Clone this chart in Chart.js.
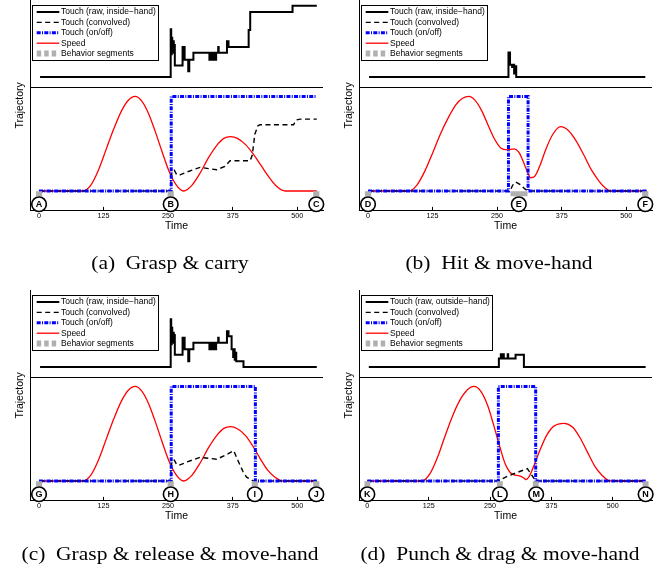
<!DOCTYPE html>
<html>
<head>
<meta charset="utf-8">
<script src="https://cdn.jsdelivr.net/npm/chart.js@4.4.1/dist/chart.umd.min.js"></script>
<style>
  html, body { margin: 0; padding: 0; background: #fff; }
  #fig { position: relative; width: 668px; height: 572px; overflow: hidden; }
  #fig canvas { position: absolute; }
  .cap { position: absolute; width: 400px; text-align: center; white-space: nowrap;
         font: 19px "Liberation Serif", "Times New Roman", serif; line-height: 20px; transform: scaleX(1.13); }
</style>
</head>
<body>
<div id="fig">
  <canvas id="panelA" width="334" height="290" style="left:0;top:0"></canvas>
  <canvas id="panelB" width="334" height="290" style="left:334px;top:0"></canvas>
  <canvas id="panelC" width="334" height="290" style="left:0;top:290px"></canvas>
  <canvas id="panelD" width="334" height="290" style="left:334px;top:290px"></canvas>
  <div class="cap" style="left:-30.5px;top:253px">(a)&ensp;Grasp &amp; carry</div>
  <div class="cap" style="left:299px;top:253px">(b)&ensp;Hit &amp; move-hand</div>
  <div class="cap" style="left:-30px;top:543.5px">(c)&ensp;Grasp &amp; release &amp; move-hand</div>
  <div class="cap" style="left:299.5px;top:543.5px">(d)&ensp;Punch &amp; drag &amp; move-hand</div>
</div>
<script>
  // x ticks shared by all four panels
  var timeTicks = [0, 125, 250, 375, 500];

  // ---- (a) Grasp & carry ----  [time, value]
  var rawA = [[2,0],[255,0.67],[256,0.32],[257,0.55],[258,0.36],[259,0.5],[261,0.34],[262,0.45],[263,0.16],
    [278,0.42],[280,0.24],[281,0.42],[282,0.24],[289,0.08],[291,0.24],[299,0.34],
    [330,0.24],[331,0.34],[332,0.24],[333,0.34],[334,0.24],[335,0.34],[336,0.24],[337,0.34],[338,0.24],
    [339,0.34],[340,0.24],[341,0.34],[342,0.24],[343,0.34],[347,0.42],[348,0.34],[364,0.5],[367,0.42],
    [406,0.66],[409,0.91],[491,1.0],[538,1.0]];
  var convA = [[0,0],[254,0],[257,0.2],[262,0.22],[267,0.17],[273,0.17],[286,0.2],[312,0.25],[344,0.225],
    [360,0.26],[370,0.32],[409,0.32],[413,0.38],[418,0.6],[424,0.69],[428,0.7],[493,0.7],[498,0.75],[506,0.76],[538,0.76]];
  var onoffA = [[0,0],[256,1],[538,1]];
  var speedA = [[0,0],[85,0],[100,0.06],[115,0.22],[130,0.44],[145,0.66],[160,0.85],[173,0.96],[186,1.0],
    [199,0.95],[212,0.82],[225,0.63],[238,0.42],[251,0.22],[265,0.07],[280,0.0],[296,0.06],[312,0.19],
    [328,0.35],[344,0.48],[358,0.556],[371,0.574],[385,0.554],[400,0.49],[415,0.39],[430,0.27],[445,0.15],
    [460,0.05],[477,0],[538,0]];
  var behaviorA = [[-6,6],[249,261],[531,543]];
  var boundsA = [0, 255, 537];
  var lettersA = ['A', 'B', 'C'];

  // ---- (b) Hit & move-hand ----
  var rawB = [[2,0],[272,0.345],[275,0.17],[279,0.14],[281,0.17],[283,0.05],[285,0.15],[287,0],[537,0]];
  var convB = [[0,0],[275,0],[280,0.06],[286,0.095],[294,0.07],[303,0.025],[310,0],[540,0]];
  var onoffB = [[0,0],[272,1],[310,0],[540,0]];
  var speedB = [[0,0],[79,0],[95,0.065],[110,0.21],[125,0.4],[140,0.6],[155,0.77],[170,0.91],[183,0.98],
    [195.5,1.0],[207,0.96],[220,0.85],[233,0.69],[245,0.55],[257,0.455],[270,0.435],[283,0.445],[292,0.41],
    [300,0.32],[308,0.21],[315,0.14],[322,0.15],[333,0.27],[345,0.45],[358,0.6],[373,0.68],[388,0.64],
    [403,0.53],[418,0.38],[433,0.22],[448,0.1],[460,0.03],[470,0],[540,0]];
  var behaviorB = [[-6,6],[276,309],[531,543]];
  var boundsB = [0, 292, 537];
  var lettersB = ['D', 'E', 'F'];

  // ---- (c) Grasp & release & move-hand ----
  var rawC = [[2,0],[255,0.67],[256,0.32],[257,0.55],[258,0.36],[259,0.48],[261,0.34],[262,0.45],[263,0.17],
    [278,0.41],[280,0.25],[281,0.41],[282,0.25],[289,0.08],[291,0.25],[299,0.34],
    [330,0.25],[331,0.34],[332,0.25],[333,0.34],[334,0.25],[335,0.34],[336,0.25],[337,0.34],[338,0.25],
    [339,0.34],[340,0.25],[341,0.34],[342,0.25],[343,0.34],[347,0.41],[348,0.34],[364,0.5],[367,0.43],
    [373,0.25],[376,0.14],[377,0.25],[379,0.1],[380,0.2],[382,0.08],[396,0],[538,0]];
  var convC = [[0,0],[254,0],[257,0.21],[262,0.22],[267,0.17],[273,0.17],[286,0.2],[312,0.25],[344,0.23],
    [360,0.27],[370,0.3],[377,0.32],[385,0.22],[395,0.1],[402,0.04],[415,0],[538,0]];
  var onoffC = [[0,0],[256,1],[419,0],[538,0]];
  var speedC = [[0,0],[85,0],[100,0.06],[115,0.22],[130,0.44],[145,0.66],[160,0.85],[173,0.96],[186,1.0],
    [199,0.95],[212,0.82],[225,0.63],[238,0.42],[251,0.22],[265,0.07],[280,0.0],[296,0.06],[312,0.19],
    [328,0.35],[344,0.48],[358,0.556],[371,0.574],[385,0.55],[400,0.48],[414,0.37],[428,0.24],[442,0.12],
    [457,0.04],[473,0],[538,0]];
  var behaviorC = [[-6,6],[249,261],[412,424],[531,543]];
  var boundsC = [0, 255, 418, 537];
  var lettersC = ['G', 'H', 'I', 'J'];

  // ---- (d) Punch & drag & move-hand ----
  var rawD = [[3,0],[268,0.12],[272,0.18],[273,0.12],[277,0.18],[278,0.12],[286,0.18],[287,0.12],[302,0.17],[319,0],[567,0]];
  var convD = [[0,0],[267,0],[285,0.05],[305,0.09],[326,0.13],[334,0.07],[343,0],[567,0]];
  var onoffD = [[0,0],[267,1],[343,0],[567,0]];
  var speedD = [[0,0],[112,0],[128,0.08],[143,0.25],[158,0.47],[173,0.68],[188,0.85],[203,0.96],[217,1.0],
    [231,0.95],[245,0.8],[258,0.58],[270,0.36],[281,0.18],[291,0.09],[299,0.065],[310,0.055],[318,0.035],
    [323,0.015],[330,0.05],[340,0.17],[352,0.33],[365,0.48],[380,0.58],[401,0.61],[418,0.57],[433,0.46],
    [448,0.31],[463,0.16],[478,0.06],[490,0.01],[499,0],[567,0]];
  var behaviorD = [[-6,6],[264,276],[337,349],[561,573]];
  var boundsD = [0, 270, 344, 567];
  var lettersD = ['K', 'L', 'M', 'N'];

  var SANS = '"Liberation Sans", Arial, sans-serif';
  Chart.defaults.font.family = SANS;
  Chart.defaults.color = '#000';

  function pts(pairs) {
    return pairs.map(function (p) { return { x: p[0], y: p[1] }; });
  }

  // short horizontal bars, broken by a null point
  function segPts(ranges, level) {
    var out = [];
    ranges.forEach(function (r) {
      out.push({ x: r[0], y: level }, { x: r[1], y: level }, { x: r[1], y: null });
    });
    return out;
  }

  // separator, y label, circled letters and the boxed legend
  var panelDecor = {
    id: 'panelDecor',
    afterDatasetsDraw: function (chart) {
      var ctx = chart.ctx, a = chart.chartArea;
      ctx.save();

      var ys = Math.round(chart.scales.yBot.top) + 0.5;
      ctx.strokeStyle = '#000';
      ctx.lineWidth = 1;
      ctx.beginPath();
      ctx.moveTo(a.left, ys);
      ctx.lineTo(a.right, ys);
      ctx.stroke();

      ctx.save();
      ctx.translate(a.left - 10, (a.top + a.bottom) / 2);
      ctx.rotate(-Math.PI / 2);
      ctx.font = '10.5px ' + SANS;
      ctx.textAlign = 'center';
      ctx.textBaseline = 'middle';
      ctx.fillStyle = '#000';
      ctx.fillText('Trajectory', 0, 0);
      ctx.restore();

      var marks = chart.data.datasets[0];
      ctx.font = 'bold 9px ' + SANS;
      ctx.textAlign = 'center';
      ctx.textBaseline = 'middle';
      ctx.fillStyle = '#000';
      chart.getDatasetMeta(0).data.forEach(function (pt, i) {
        ctx.fillText(marks.letters[i], pt.x, pt.y + 0.5);
      });

      var items = chart.data.datasets.filter(function (d) { return d.legendRank != null; })
        .sort(function (p, q) { return p.legendRank - q.legendRank; });
      ctx.font = '8.5px ' + SANS;
      var textW = 0;
      items.forEach(function (d) { textW = Math.max(textW, ctx.measureText(d.label).width); });
      var bx = a.left + 2, by = a.top + 4.7, bw = 29 + textW + 2, bh = 55.3;
      ctx.fillStyle = '#fff';
      ctx.fillRect(bx, by, bw, bh);
      ctx.strokeStyle = '#000';
      ctx.lineWidth = 1;
      ctx.strokeRect(Math.round(bx) + 0.5, Math.round(by) + 0.5, Math.round(bw), Math.round(bh));
      items.forEach(function (d, i) {
        var y = by + 7.3 + i * 10.4;
        ctx.save();
        ctx.strokeStyle = d.borderColor;
        ctx.lineWidth = d.legendWidth || d.borderWidth;
        ctx.setLineDash(d.legendDash || d.borderDash || []);
        ctx.beginPath();
        ctx.moveTo(bx + 4.7, y);
        ctx.lineTo(bx + 27.3, y);
        ctx.stroke();
        ctx.restore();
        ctx.fillStyle = '#000';
        ctx.textAlign = 'left';
        ctx.textBaseline = 'middle';
        ctx.fillText(d.label, bx + 29, y);
      });
      ctx.restore();
    }
  };

  function makePanel(id, p) {
    var datasets = [
      { label: 'marks', data: p.bounds.map(function (t) { return { x: t, y: -0.14 }; }), letters: p.letters,
        showLine: false, pointRadius: 7.3, pointBackgroundColor: '#fff', pointBorderColor: '#000',
        pointBorderWidth: 1.6, yAxisID: 'yBot', clip: false },
      { label: 'Behavior segments', data: segPts(p.behavior, -0.03), borderColor: '#b0b0b0', borderWidth: 5,
        pointRadius: 0, spanGaps: false, yAxisID: 'yBot', clip: false, legendRank: 4, legendWidth: 6, legendDash: [4.5, 3] },
      { label: 'Touch (on/off)', data: pts(p.onoff), stepped: true, borderColor: '#0000ff', borderWidth: 3,
        borderDash: [4, 1.3, 1, 1.3], pointRadius: 0, yAxisID: 'yBot', legendRank: 2 },
      { label: 'Touch (convolved)', data: pts(p.conv), borderColor: '#000', borderWidth: 1.4,
        borderDash: [5, 3.5], pointRadius: 0, yAxisID: 'yBot', legendRank: 1 },
      { label: p.rawLabel, data: pts(p.raw), stepped: true, borderColor: '#000', borderWidth: 2,
        pointRadius: 0, yAxisID: 'yTop', legendRank: 0 },
      { label: 'Speed', data: pts(p.speed), borderColor: '#ff0000', borderWidth: 1.3,
        cubicInterpolationMode: 'monotone', pointRadius: 0, yAxisID: 'yBot', legendRank: 3 }
    ];
    var hiddenY = {
      type: 'linear', position: 'left', stack: 'v',
      ticks: { display: false },
      grid: { display: false, drawTicks: false },
      border: { display: true, color: '#000', width: 1 },
      afterFit: function (s) { s.width = 0; }
    };
    return new Chart(document.getElementById(id), {
      type: 'line',
      data: { datasets: datasets },
      plugins: [panelDecor],
      options: {
        responsive: false,
        animation: false,
        devicePixelRatio: 1,
        events: [],
        layout: { autoPadding: false, padding: { left: p.left, right: 334 - p.left - 293, top: 0, bottom: 59 } },
        plugins: { legend: { display: false }, tooltip: { enabled: false } },
        scales: {
          x: {
            type: 'linear', min: p.xMin, max: p.xMax,
            afterBuildTicks: function (s) { s.ticks = timeTicks.map(function (v) { return { value: v }; }); },
            ticks: { autoSkip: false, maxRotation: 0, padding: 5, color: '#000', font: { size: 7.2 } },
            grid: { drawOnChartArea: false, drawTicks: true, tickLength: -4, color: '#000', lineWidth: 1 },
            border: { display: true, color: '#000', width: 1 },
            title: { display: true, text: 'Time', color: '#000', font: { size: 10.5, lineHeight: 1 }, padding: { top: -5, bottom: 0 } }
          },
          yTop: Object.assign({}, hiddenY, { stackWeight: 87, weight: 1, min: -0.14, max: 1.08 }),
          yBot: Object.assign({}, hiddenY, { stackWeight: 124, weight: 0, min: -0.21, max: 1.1 })
        }
      }
    });
  }

  makePanel('panelA', { left: 30, xMin: -17.5, xMax: 550, rawLabel: 'Touch (raw, inside\u2212hand)',
    raw: rawA, conv: convA, onoff: onoffA, speed: speedA, behavior: behaviorA, bounds: boundsA, letters: lettersA });
  makePanel('panelB', { left: 25, xMin: -17.5, xMax: 550, rawLabel: 'Touch (raw, inside\u2212hand)',
    raw: rawB, conv: convB, onoff: onoffB, speed: speedB, behavior: behaviorB, bounds: boundsB, letters: lettersB });
  makePanel('panelC', { left: 30, xMin: -17.5, xMax: 550, rawLabel: 'Touch (raw, inside\u2212hand)',
    raw: rawC, conv: convC, onoff: onoffC, speed: speedC, behavior: behaviorC, bounds: boundsC, letters: lettersC });
  makePanel('panelD', { left: 25, xMin: -17, xMax: 580, rawLabel: 'Touch (raw, outside\u2212hand)',
    raw: rawD, conv: convD, onoff: onoffD, speed: speedD, behavior: behaviorD, bounds: boundsD, letters: lettersD });
</script>
</body>
</html>
